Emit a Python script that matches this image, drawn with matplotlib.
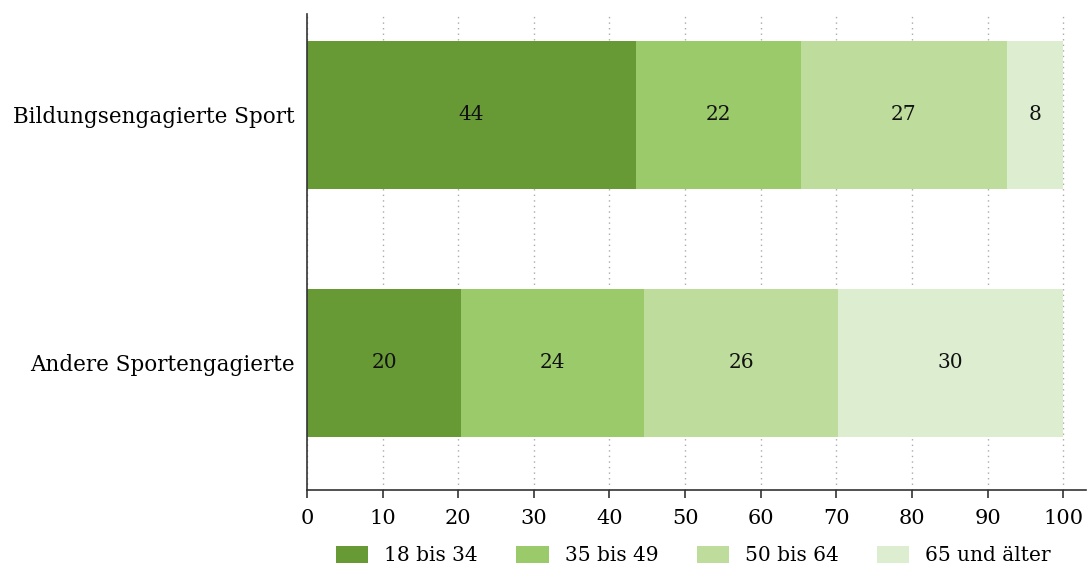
import matplotlib.pyplot as plt
import numpy as np

plt.rcParams['font.family'] = ['DejaVu Serif']

categories = ['Andere Sportengagierte', 'Bildungsengagierte Sport']
age_groups = ['18 bis 34', '35 bis 49', '50 bis 64', '65 und älter']
# shares per age group, (Andere, Bildungsengagierte)
values = [
    [20.4, 43.5],
    [24.2, 21.8],
    [25.6, 27.2],
    [29.8, 7.5],
]
labels = [
    ['20', '44'],
    ['24', '22'],
    ['26', '27'],
    ['30', '8'],
]
colors = ['#679a35', '#9aca69', '#bedd9c', '#ddedd0']

fig = plt.figure(figsize=(10.87, 5.71), dpi=100)
ax = fig.add_axes([0.2824, 0.1419, 0.7166, 0.8336])

y = np.arange(len(categories))
left = np.zeros(len(categories))
for i, grp in enumerate(age_groups):
    bars = ax.barh(y, values[i], left=left, height=0.6, color=colors[i],
                   label=grp, zorder=2)
    for j, b in enumerate(bars):
        ax.text(left[j] + values[i][j] / 2, y[j], labels[i][j],
                ha='center', va='center', fontsize=14.5, color='#111111', zorder=3)
    left += np.array(values[i])

ax.set_xlim(0, 103)
ax.set_ylim(-0.512, 1.407)
ax.set_xticks(range(0, 101, 10))
ax.set_yticks(y)
ax.set_yticklabels(categories, fontsize=15.5)
ax.tick_params(axis='x', labelsize=15, length=6, width=1.2, color='#333333', pad=8)
ax.tick_params(axis='y', length=0, pad=9)

ax.grid(axis='x', linestyle=(0, (1, 3)), color='#aaaaaa', linewidth=1, zorder=0)
ax.set_axisbelow(True)
for s in ['top', 'right']:
    ax.spines[s].set_visible(False)
ax.spines['left'].set_color('#333333')
ax.spines['bottom'].set_color('#333333')
ax.spines['left'].set_linewidth(1.2)
ax.spines['bottom'].set_linewidth(1.2)

fig.legend(loc='lower center', bbox_to_anchor=(0.638, -0.022), ncol=4, frameon=False,
           fontsize=14.5, handlelength=1.6, handleheight=0.9, columnspacing=1.9,
           handletextpad=0.8)

fig.savefig('out.png', dpi=100)
